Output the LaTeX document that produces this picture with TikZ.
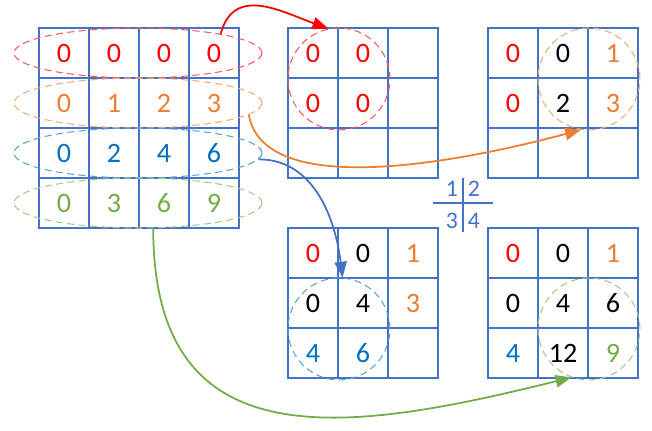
\documentclass[tikz,border=0pt]{standalone}
\usepackage{fontspec}
\setmainfont{Carlito}
\usepackage{tikz}
\usetikzlibrary{arrows.meta,shapes.geometric,positioning}

\definecolor{gridblue}{RGB}{68,114,196}
\definecolor{cred}{RGB}{255,0,0}
\definecolor{corange}{RGB}{237,125,49}
\definecolor{cblue}{RGB}{0,112,192}
\definecolor{cgreen}{RGB}{112,173,71}

% 3x3 grid: name, left, top, list of value/colour
\newcommand\tgrid[4]{%
  \foreach \v/\col [count=\k from 0] in {#4}{
    \pgfmathtruncatemacro\rr{int(\k/3)}
    \pgfmathtruncatemacro\cc{mod(\k,3)}
    \node[cell, text=\col] (#1-\rr-\cc) at (#2+25+50*\cc, -#3-25-50*\rr) {\v};
  }}

\begin{document}
\begin{tikzpicture}[x=0.02cm,y=0.02cm]
\tikzstyle{cell}=[draw=gridblue, line width=1.1pt, minimum size=1cm, inner sep=0pt, font=\fontsize{16}{19}\selectfont]
\tikzstyle{ring}=[dash pattern=on 4pt off 2.5pt, line width=0.6pt]
\tikzstyle{link}=[line width=1pt, -{Triangle[length=9pt,width=7pt]}]
\tikzstyle{quad}=[text=gridblue, inner sep=1pt, font=\fontsize{13.5}{16}\selectfont]

\useasboundingbox (0,0) rectangle (652,-430);

% left 4x4 grid, value = row*col
\foreach \r/\col in {0/cred,1/corange,2/cblue,3/cgreen}{
  \foreach \k in {0,...,3}{
    \pgfmathtruncatemacro\v{\r*\k}
    \node[cell, text=\col] (L-\r-\k) at (64+50*\k, -53-50*\r) {\v};
  }
}

% the four 3x3 grids
\tgrid{A}{288}{28}{0/cred,0/cred,{}/black,0/cred,0/cred,{}/black,{}/black,{}/black,{}/black}
\tgrid{B}{488}{28}{0/cred,0/black,1/corange,0/cred,2/black,3/corange,{}/black,{}/black,{}/black}
\tgrid{C}{288}{228}{0/cred,0/black,1/corange,0/black,4/black,3/corange,4/cblue,6/cblue,{}/black}
\tgrid{D}{488}{228}{0/cred,0/black,1/corange,0/black,4/black,6/black,4/cblue,12/black,9/cgreen}

% dashed rings
\foreach \r/\col in {0/cred,1/corange,2/cblue,3/cgreen}{
  \node[ring, ellipse, draw=\col!65, minimum width=4.96cm, minimum height=1cm] (e\r) at (138,-53-50*\r) {};
}
\node[ring, circle, draw=cred!65, minimum size=2.04cm] (cA) at (A-0-0.south east) {};
\node[ring, circle, draw=corange!65, minimum size=2.04cm] (cB) at (B-0-1.south east) {};
\node[ring, circle, draw=cblue!65, minimum size=2.04cm] (cC) at (C-1-0.south east) {};
\node[ring, circle, draw=cgreen!65, minimum size=2.04cm] (cD) at (D-1-1.south east) {};

% arrows
\draw[link, cred] (e0.13) to[out=75,in=160,looseness=1.2] (cA.102);
\draw[link, corange] (e1.-6) to[out=-80,in=195,looseness=0.72] (cB.-99);
\draw[link, gridblue] (e2.-3) to[out=0,in=97] (cC.86);
\draw[link, cgreen] (e3.-59) to[out=-90,in=194,looseness=1.35] (cD.-110);

% quadrant key
\node[quad] (q1) at (452,-189) {1};
\node[quad] (q2) at (474,-189) {2};
\node[quad] (q3) at (452,-221) {3};
\node[quad] (q4) at (474,-221) {4};
\coordinate (hl) at (433,-203);
\coordinate (hr) at (493,-203);
\coordinate (vt) at (463,-178);
\coordinate (vb) at (463,-232);
\draw[gridblue, line width=0.9pt] (hl) -- (hr);
\draw[gridblue, line width=0.9pt] (vt) -- (vb);
\end{tikzpicture}
\end{document}
